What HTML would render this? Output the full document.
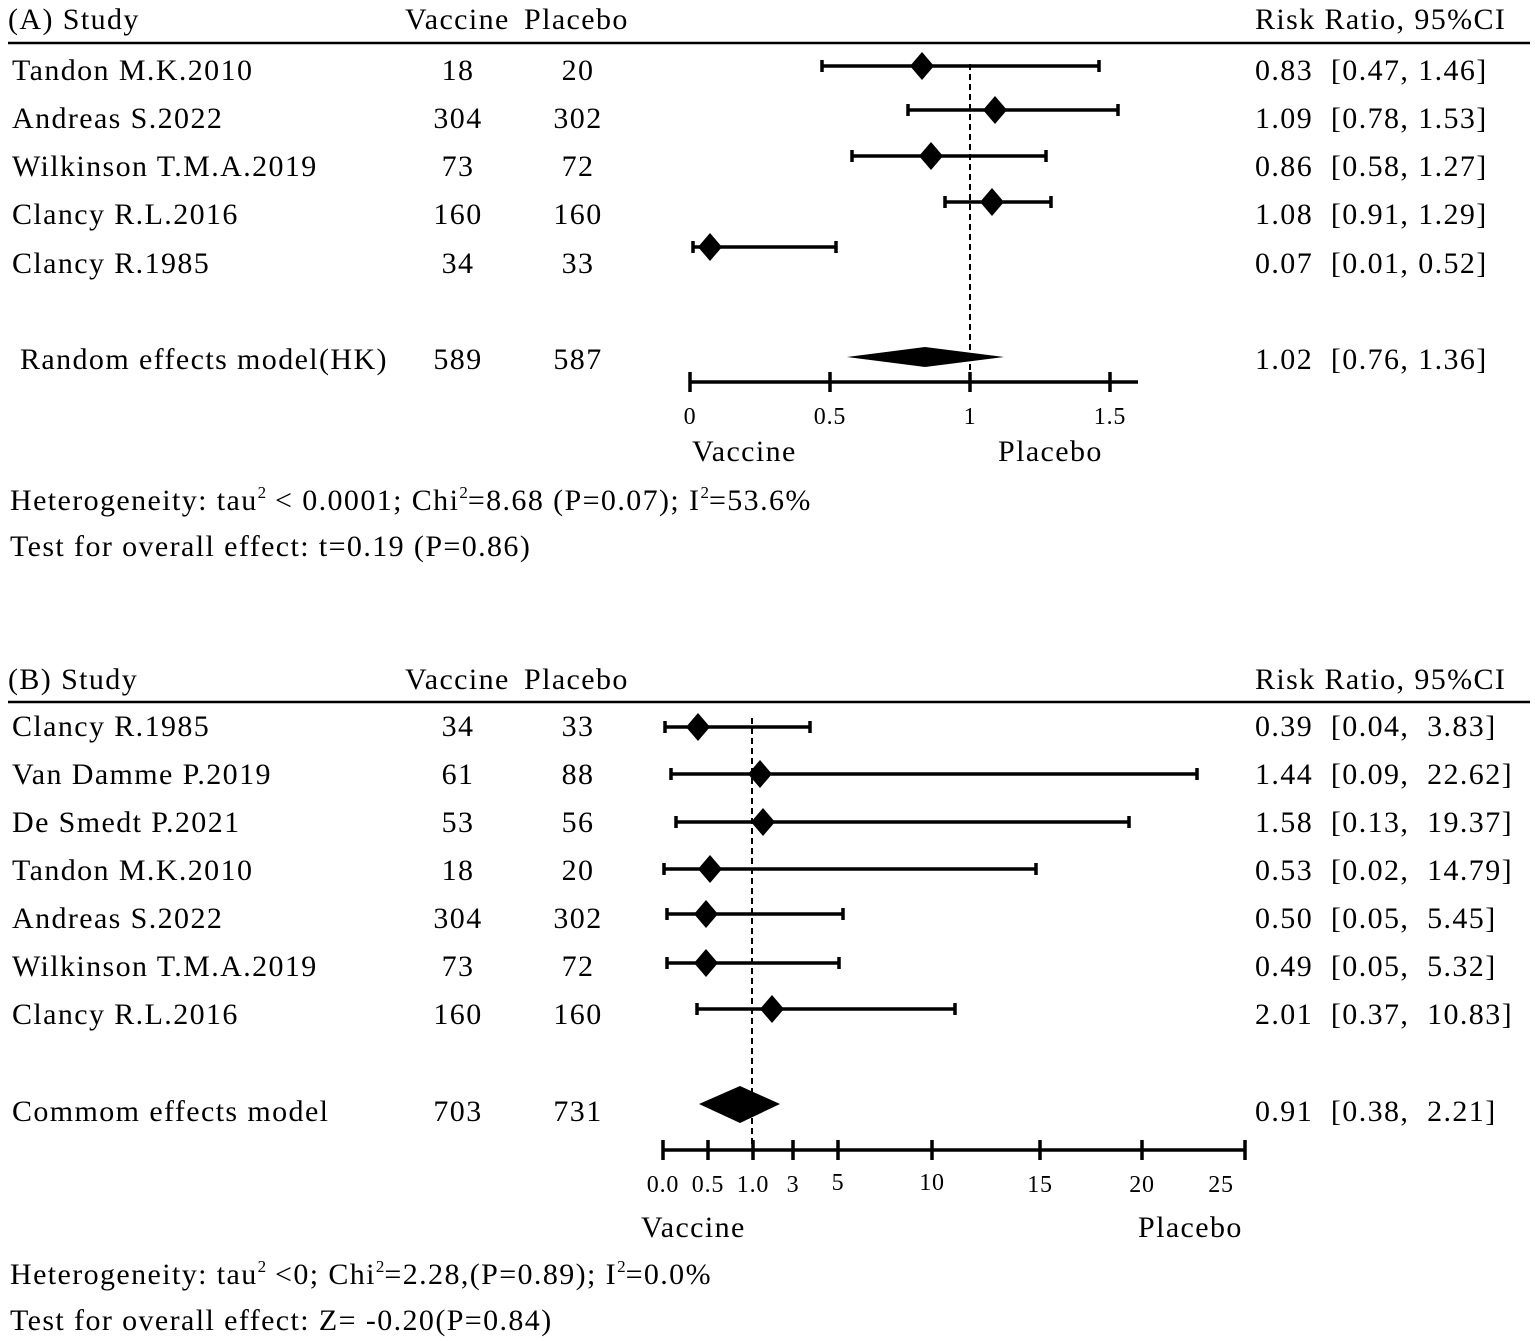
<!DOCTYPE html>
<html><head><meta charset="utf-8"><style>
html,body{margin:0;padding:0;background:#fff;}
svg{display:block;}
text{font-family:"Liberation Serif",serif;font-size:30px;letter-spacing:1.4px;fill:#000;white-space:pre;}
.s{font-size:17px;letter-spacing:0;}
.t{font-size:24px;letter-spacing:0.8px;}
</style></head><body>
<svg width="1535" height="1341" viewBox="0 0 1535 1341" xmlns="http://www.w3.org/2000/svg" xml:space="preserve">
<!-- Panel A -->
<text x="8" y="29">(A) Study</text>
<text x="405" y="29">Vaccine</text>
<text x="524" y="29">Placebo</text>
<text x="1255" y="29">Risk Ratio, 95%CI</text>
<line x1="8" y1="43" x2="1530" y2="43" stroke="#000" stroke-width="2.5"/>
<g>
<text x="12" y="80">Tandon M.K.2010</text><text x="458" y="80" text-anchor="middle">18</text><text x="578" y="80" text-anchor="middle">20</text><text x="1255" y="80">0.83  [0.47, 1.46]</text>
<text x="12" y="128">Andreas S.2022</text><text x="458" y="128" text-anchor="middle">304</text><text x="578" y="128" text-anchor="middle">302</text><text x="1255" y="128">1.09  [0.78, 1.53]</text>
<text x="12" y="176">Wilkinson T.M.A.2019</text><text x="458" y="176" text-anchor="middle">73</text><text x="578" y="176" text-anchor="middle">72</text><text x="1255" y="176">0.86  [0.58, 1.27]</text>
<text x="12" y="224">Clancy R.L.2016</text><text x="458" y="224" text-anchor="middle">160</text><text x="578" y="224" text-anchor="middle">160</text><text x="1255" y="224">1.08  [0.91, 1.29]</text>
<text x="12" y="273">Clancy R.1985</text><text x="458" y="273" text-anchor="middle">34</text><text x="578" y="273" text-anchor="middle">33</text><text x="1255" y="273">0.07  [0.01, 0.52]</text>
<text x="20" y="369">Random effects model(HK)</text><text x="458" y="369" text-anchor="middle">589</text><text x="578" y="369" text-anchor="middle">587</text><text x="1255" y="369">1.02  [0.76, 1.36]</text>
</g>
<line x1="970" y1="64" x2="970" y2="382" stroke="#000" stroke-width="2" stroke-dasharray="6,4"/>
<g stroke="#000" stroke-width="3.5" fill="none">
<path d="M822 66H1099M822 60V72M1099 60V72"/>
<path d="M908 110H1118M908 104V116M1118 104V116"/>
<path d="M852 156H1046M852 150V162M1046 150V162"/>
<path d="M945 202H1051M945 196V208M1051 196V208"/>
<path d="M693 247H836M693 241V253M836 241V253"/>
<path d="M690 382H1138M690 372V392M830 372V392M970 372V392M1110 372V392"/>
</g>
<g fill="#000">
<path d="M922 52L934 66L922 80L910 66Z"/>
<path d="M995 96L1007 110L995 124L983 110Z"/>
<path d="M931 142L943 156L931 170L919 156Z"/>
<path d="M992 188L1004 202L992 216L980 202Z"/>
<path d="M710 233L722 247L710 261L698 247Z"/>
<path d="M847 357L925 347L1004 357L925 367Z"/>
</g>
<text x="690" y="424" text-anchor="middle" class="t">0</text>
<text x="830" y="424" text-anchor="middle" class="t">0.5</text>
<text x="970" y="424" text-anchor="middle" class="t">1</text>
<text x="1110" y="424" text-anchor="middle" class="t">1.5</text>
<text x="692" y="461">Vaccine</text>
<text x="998" y="461">Placebo</text>
<text x="10" y="510">Heterogeneity: tau<tspan class="s" dy="-12">2</tspan><tspan dy="12"> &lt; 0.0001; Chi</tspan><tspan class="s" dy="-12">2</tspan><tspan dy="12">=8.68 (P=0.07); I</tspan><tspan class="s" dy="-12">2</tspan><tspan dy="12">=53.6%</tspan></text>
<text x="10" y="556">Test for overall effect: t=0.19 (P=0.86)</text>

<!-- Panel B -->
<text x="8" y="689">(B) Study</text>
<text x="405" y="689">Vaccine</text>
<text x="524" y="689">Placebo</text>
<text x="1255" y="689">Risk Ratio, 95%CI</text>
<line x1="8" y1="702" x2="1530" y2="702" stroke="#000" stroke-width="2.5"/>
<text x="12" y="736">Clancy R.1985</text><text x="458" y="736" text-anchor="middle">34</text><text x="578" y="736" text-anchor="middle">33</text><text x="1255" y="736">0.39  [0.04,  3.83]</text>
<text x="12" y="784">Van Damme P.2019</text><text x="458" y="784" text-anchor="middle">61</text><text x="578" y="784" text-anchor="middle">88</text><text x="1255" y="784">1.44  [0.09,  22.62]</text>
<text x="12" y="832">De Smedt P.2021</text><text x="458" y="832" text-anchor="middle">53</text><text x="578" y="832" text-anchor="middle">56</text><text x="1255" y="832">1.58  [0.13,  19.37]</text>
<text x="12" y="880">Tandon M.K.2010</text><text x="458" y="880" text-anchor="middle">18</text><text x="578" y="880" text-anchor="middle">20</text><text x="1255" y="880">0.53  [0.02,  14.79]</text>
<text x="12" y="928">Andreas S.2022</text><text x="458" y="928" text-anchor="middle">304</text><text x="578" y="928" text-anchor="middle">302</text><text x="1255" y="928">0.50  [0.05,  5.45]</text>
<text x="12" y="976">Wilkinson T.M.A.2019</text><text x="458" y="976" text-anchor="middle">73</text><text x="578" y="976" text-anchor="middle">72</text><text x="1255" y="976">0.49  [0.05,  5.32]</text>
<text x="12" y="1024">Clancy R.L.2016</text><text x="458" y="1024" text-anchor="middle">160</text><text x="578" y="1024" text-anchor="middle">160</text><text x="1255" y="1024">2.01  [0.37,  10.83]</text>
<text x="12" y="1121">Commom effects model</text><text x="458" y="1121" text-anchor="middle">703</text><text x="578" y="1121" text-anchor="middle">731</text><text x="1255" y="1121">0.91  [0.38,  2.21]</text>
<line x1="752" y1="718" x2="752" y2="1150" stroke="#000" stroke-width="2" stroke-dasharray="6,4"/>
<g stroke="#000" stroke-width="3.5" fill="none">
<path d="M665 727H810M665 721V733M810 721V733"/>
<path d="M671 774H1197M671 768V780M1197 768V780"/>
<path d="M676 822H1129M676 816V828M1129 816V828"/>
<path d="M664 869H1036M664 863V875M1036 863V875"/>
<path d="M667 914H843M667 908V920M843 908V920"/>
<path d="M667 963H839M667 957V969M839 957V969"/>
<path d="M697 1009H955M697 1003V1015M955 1003V1015"/>
<path d="M663 1150H1245M663 1140V1160M708 1140V1160M753 1140V1160M793 1140V1160M838 1140V1160M932 1140V1160M1040 1140V1160M1142 1140V1160M1245 1140V1160"/>
</g>
<g fill="#000">
<path d="M698 713L710 727L698 741L686 727Z"/>
<path d="M760 760L772 774L760 788L748 774Z"/>
<path d="M763 808L775 822L763 836L751 822Z"/>
<path d="M710 855L722 869L710 883L698 869Z"/>
<path d="M706 900L718 914L706 928L694 914Z"/>
<path d="M706 949L718 963L706 977L694 963Z"/>
<path d="M772 995L784 1009L772 1023L760 1009Z"/>
<path d="M699 1104L740 1086L780 1104L740 1123Z"/>
</g>
<text x="663" y="1192" text-anchor="middle" class="t">0.0</text>
<text x="708" y="1192" text-anchor="middle" class="t">0.5</text>
<text x="753" y="1192" text-anchor="middle" class="t">1.0</text>
<text x="793" y="1192" text-anchor="middle" class="t">3</text>
<text x="838" y="1190" text-anchor="middle" class="t">5</text>
<text x="932" y="1190" text-anchor="middle" class="t">10</text>
<text x="1040" y="1192" text-anchor="middle" class="t">15</text>
<text x="1142" y="1192" text-anchor="middle" class="t">20</text>
<text x="1221" y="1192" text-anchor="middle" class="t">25</text>
<text x="641" y="1237">Vaccine</text>
<text x="1138" y="1237">Placebo</text>
<text x="10" y="1284">Heterogeneity: tau<tspan class="s" dy="-12">2</tspan><tspan dy="12"> &lt;0; Chi</tspan><tspan class="s" dy="-12">2</tspan><tspan dy="12">=2.28,(P=0.89); I</tspan><tspan class="s" dy="-12">2</tspan><tspan dy="12">=0.0%</tspan></text>
<text x="10" y="1330">Test for overall effect: Z= -0.20(P=0.84)</text>
</svg>
</body></html>
